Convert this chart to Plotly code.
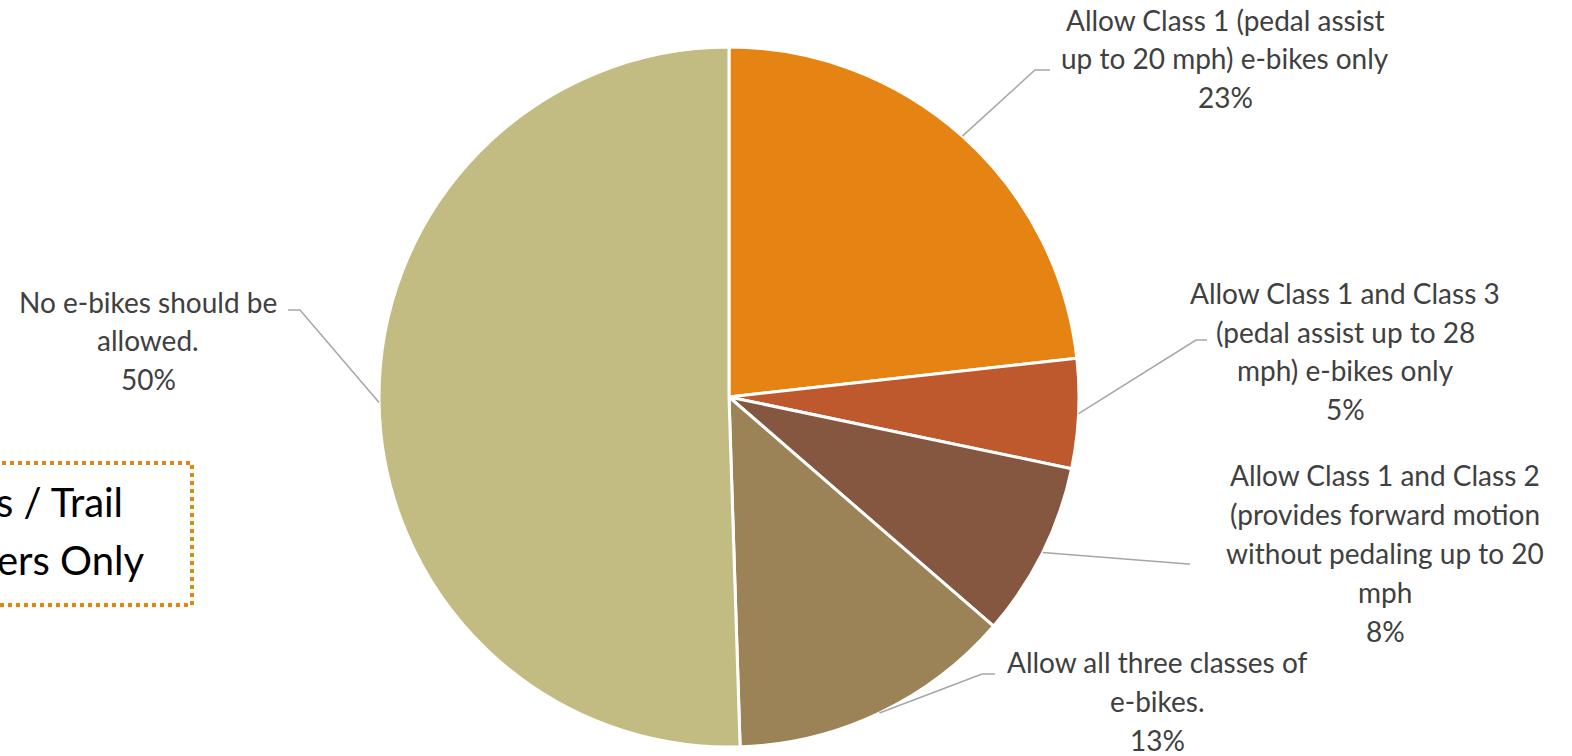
import numpy as np
import plotly.graph_objects as go

# Survey responses on e-bike access
categories = [
    "Allow Class 1 (pedal assist up to 20 mph) e-bikes only",
    "Allow Class 1 and Class 3 (pedal assist up to 28 mph) e-bikes only",
    "Allow Class 1 and Class 2 (provides forward motion without pedaling up to 20 mph",
    "Allow all three classes of e-bikes.",
    "No e-bikes should be allowed.",
]
values = [23, 5, 8, 13, 50]
label_lines = [
    ["Allow Class 1 (pedal assist", "up to 20 mph) e-bikes only"],
    ["Allow Class 1 and Class 3", "(pedal assist up to 28", "mph) e-bikes only"],
    ["Allow Class 1 and Class 2", "(provides forward motion", "without pedaling up to 20", "mph"],
    ["Allow all three classes of", "e-bikes."],
    ["No e-bikes should be", "allowed."],
]
colors = ["#E58313", "#BE592D", "#865740", "#9B8257", "#C2BC82"]
box_lines = ["s / Trail", "ers Only"]

W, H = 1572, 756
CX, CY, R = 729, 397, 350          # pie centre and radius in pixels


def px(x):
    return x / W


def py(y):
    return 1 - y / H


fig = go.Figure(go.Pie(
    labels=categories,
    values=values,
    sort=False,
    direction="clockwise",
    rotation=0,
    textinfo="none",
    hoverinfo="label+percent",
    marker=dict(colors=colors, line=dict(color="white", width=3)),
    domain=dict(x=[px(CX - R), px(CX + R)], y=[py(CY + R), py(CY - R)]),
    showlegend=False,
))

# label block placement: (centre x, first line y, line step) and leader-line elbow
label_pos = [
    (1225, 20, 38.5),
    (1345, 293, 38.5),
    (1385, 475, 39),
    (1157, 662, 39),
    (148, 302, 38.5),
]
elbows = [
    ((1035, 70), (1050, 70)),
    ((1196, 340), (1207, 340)),
    ((1188, 564), (1190, 564)),
    ((982, 674), (995, 674)),
    ((300, 310), (288, 310)),
]

font_lbl = dict(family="Lato, Carlito, sans-serif", size=28, color="#404040")
annotations = []
shapes = []
total = sum(values)
cum = 0
for i, v in enumerate(values):
    mid = (cum + v / 2) / total * 2 * np.pi
    cum += v
    sx = CX + R * np.sin(mid)
    sy = CY - R * np.cos(mid)
    (ex, ey), (hx, hy) = elbows[i]
    shapes.append(dict(
        type="path", xref="paper", yref="paper",
        path=f"M {px(sx)},{py(sy)} L {px(ex)},{py(ey)} L {px(hx)},{py(hy)}",
        line=dict(color="#A6A6A6", width=1.5),
    ))
    lines = label_lines[i] + [f"{v}%"]
    cx, y0, step = label_pos[i]
    for k, t in enumerate(lines):
        annotations.append(dict(
            x=px(cx), y=py(y0 + k * step), xref="paper", yref="paper",
            text=t, showarrow=False, xanchor="center", yanchor="middle",
            font=font_lbl,
        ))

# dotted call-out box on the left edge
shapes.append(dict(
    type="rect", xref="paper", yref="paper",
    x0=px(-40), x1=px(192), y0=py(605), y1=py(463),
    line=dict(color="#E58313", width=4, dash="dot"),
    fillcolor="rgba(0,0,0,0)",
))
box_right = [125, 147]
box_y = [502, 560]
for t, xr, yc in zip(box_lines, box_right, box_y):
    annotations.append(dict(
        x=px(xr), y=py(yc), xref="paper", yref="paper",
        text=t, showarrow=False, xanchor="right", yanchor="middle",
        font=dict(family="Lato, Carlito, sans-serif", size=40, color="#000000"),
    ))

fig.update_layout(
    width=W, height=H,
    margin=dict(l=0, r=0, t=0, b=0),
    paper_bgcolor="white",
    plot_bgcolor="white",
    shapes=shapes,
    annotations=annotations,
)

fig.write_html("out.html")
